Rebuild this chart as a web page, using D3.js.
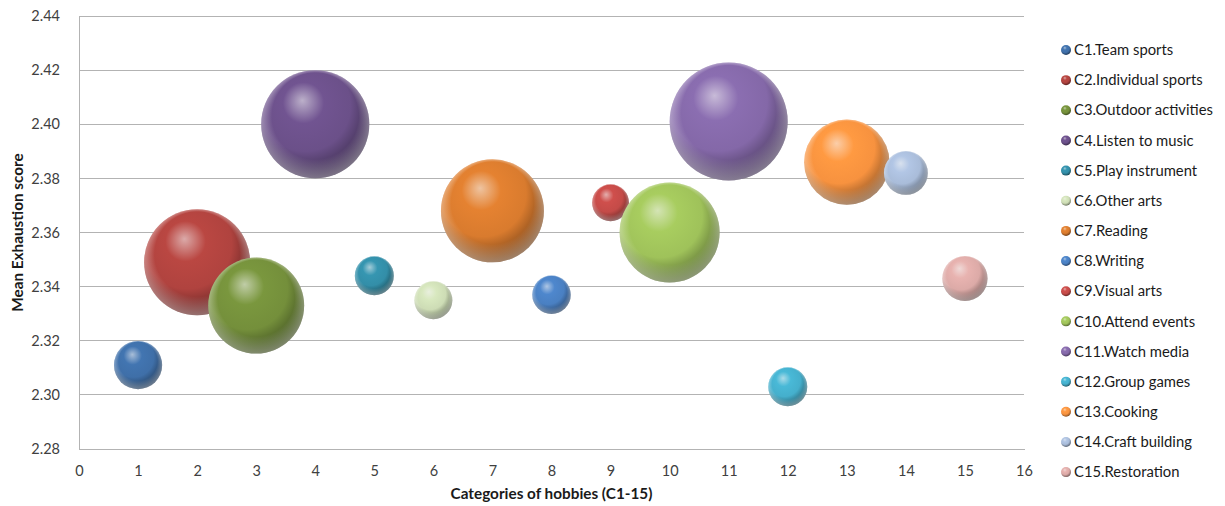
<!DOCTYPE html>
<html>
<head>
<meta charset="utf-8">
<script src="https://cdn.jsdelivr.net/npm/d3@7"></script>
<style>
  html, body { margin: 0; padding: 0; background: #fff; }
  svg { display: block; font-family: Lato, "Open Sans", "Liberation Sans", sans-serif; }
</style>
</head>
<body>
<svg id="chart" width="1225" height="506"></svg>
<script>
// Hobby categories (legend labels)
const categories = [
  "C1.Team sports", "C2.Individual sports", "C3.Outdoor activities", "C4.Listen to music",
  "C5.Play instrument", "C6.Other arts", "C7.Reading", "C8.Writing", "C9.Visual arts",
  "C10.Attend events", "C11.Watch media", "C12.Group games", "C13.Cooking",
  "C14.Craft building", "C15.Restoration"
];
// Category number on the x axis
const categoryIndex = [1, 2, 3, 4, 5, 6, 7, 8, 9, 10, 11, 12, 13, 14, 15];
// Mean exhaustion score per category
const meanScore = [2.311, 2.349, 2.333, 2.400, 2.344, 2.335, 2.368, 2.337, 2.371,
                   2.360, 2.401, 2.303, 2.386, 2.382, 2.343];
// Bubble size per category
const bubbleSize = [58, 281, 230, 292, 38, 36, 265, 37, 34, 250, 348, 38, 182, 48, 51];
// Series colours
const colors = ["#3f6fa8", "#b0433f", "#748f3b", "#6b5089", "#338ea8", "#cddcb5",
                "#d97b2e", "#4a80c2", "#c44b48", "#9fc25a", "#8468a8", "#45afcc",
                "#f7923f", "#a9bcd9", "#dcaaa7"];
// Axis ticks
const xTicks = d3.range(0, 17, 1);
const yTicks = [2.28, 2.30, 2.32, 2.34, 2.36, 2.38, 2.40, 2.42, 2.44];

const svg = d3.select("#chart");
const plot = { left: 79, right: 1024, top: 16, bottom: 449 };

const x = d3.scaleLinear().domain([0, 16]).range([plot.left, plot.right]);
const y = d3.scaleLinear().domain([2.28, 2.44]).range([plot.bottom, plot.top]);
const r = d3.scaleSqrt().domain([0, d3.max(bubbleSize)]).range([0, 59]);

// Sphere shading gradients
const defs = svg.append("defs");
colors.forEach((c, i) => {
  const base = d3.color(c);
  const hi = d3.interpolateRgb(c, "#ffffff")(0.55);
  const dark = base.darker(1.1);
  const darker = base.darker(2.2);
  const g = defs.append("radialGradient")
    .attr("id", "sph" + i)
    .attr("cx", 0.42).attr("cy", 0.36).attr("r", 0.68)
    .attr("fx", 0.38).attr("fy", 0.28);
  g.append("stop").attr("offset", 0).attr("stop-color", hi);
  g.append("stop").attr("offset", 0.28).attr("stop-color", base.brighter(0.15));
  g.append("stop").attr("offset", 0.62).attr("stop-color", c);
  g.append("stop").attr("offset", 0.86).attr("stop-color", dark);
  g.append("stop").attr("offset", 1).attr("stop-color", darker);
});
// Light reflected along the lower rim
const rim = defs.append("radialGradient")
  .attr("id", "rim").attr("cx", 0.5).attr("cy", 0.5).attr("r", 0.5)
  .attr("fx", 0.5).attr("fy", 0.12);
rim.append("stop").attr("offset", 0).attr("stop-color", "#fff").attr("stop-opacity", 0);
rim.append("stop").attr("offset", 0.8).attr("stop-color", "#fff").attr("stop-opacity", 0);
rim.append("stop").attr("offset", 1).attr("stop-color", "#fff").attr("stop-opacity", 0.35);

// Gridlines
svg.append("g")
  .selectAll("line").data(yTicks).join("line")
  .attr("x1", plot.left).attr("x2", plot.right)
  .attr("y1", d => y(d)).attr("y2", d => y(d))
  .attr("stroke", "#b3b3b3").attr("stroke-width", 1)
  .attr("shape-rendering", "crispEdges");

// Axes
const xAxis = svg.append("g")
  .attr("transform", `translate(0,${plot.bottom})`)
  .call(d3.axisBottom(x).tickValues(xTicks).tickFormat(d3.format("d")).tickSize(0).tickPadding(17));
const yAxis = svg.append("g")
  .attr("transform", `translate(${plot.left},0)`)
  .call(d3.axisLeft(y).tickValues(yTicks).tickFormat(d3.format(".2f")).tickSize(0).tickPadding(19));
[xAxis, yAxis].forEach(a => {
  a.select(".domain").attr("stroke", "#b3b3b3").attr("shape-rendering", "crispEdges");
  a.selectAll("text").attr("font-size", 14.5).attr("fill", "#404040")
    .style("font-family", "Lato, 'Open Sans', sans-serif");
});

// Bubbles
const data = categories.map((name, i) => ({
  name, x: categoryIndex[i], y: meanScore[i], size: bubbleSize[i], i
}));
const bubbles = svg.append("g").selectAll("g").data(data).join("g")
  .attr("transform", d => `translate(${x(d.x)},${y(d.y)})`);
bubbles.append("circle")
  .attr("r", d => r(d.size))
  .attr("fill", d => `url(#sph${d.i})`);
bubbles.append("circle")
  .attr("r", d => r(d.size))
  .attr("fill", "url(#rim)");

// Axis titles
svg.append("text")
  .attr("x", (plot.left + plot.right) / 2).attr("y", 499)
  .attr("text-anchor", "middle")
  .attr("font-size", 15.3).attr("font-weight", "bold").attr("fill", "#1a1a1a")
  .text("Categories of hobbies (C1-15)");
svg.append("text")
  .attr("transform", `translate(23,${(plot.top + plot.bottom) / 2}) rotate(-90)`)
  .attr("text-anchor", "middle")
  .attr("font-size", 15.3).attr("font-weight", "bold").attr("fill", "#1a1a1a")
  .text("Mean Exhaustion score");

// Legend
const legend = svg.append("g").selectAll("g").data(data).join("g")
  .attr("transform", (d, i) => `translate(1066,${50 + i * 30.15})`);
legend.append("circle").attr("r", 5).attr("fill", d => `url(#sph${d.i})`);
legend.append("text")
  .attr("x", 8).attr("dy", "0.35em")
  .attr("font-size", 14.8).attr("fill", "#1a1a1a")
  .text(d => d.name);
</script>
</body>
</html>
